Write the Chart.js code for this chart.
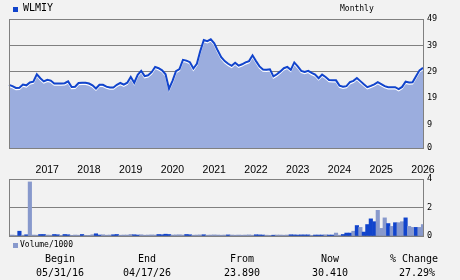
<!DOCTYPE html>
<html>
<head>
<meta charset="utf-8">
<script src="https://cdn.jsdelivr.net/npm/chart.js@4.4.1/dist/chart.umd.min.js"></script>
<style>
  html, body { margin:0; padding:0; background:#f2f2f2; }
  #wrap { position:relative; width:460px; height:280px; background:#f2f2f2; overflow:hidden; font-family:"DejaVu Sans Mono", monospace; color:#000; }
  .abs { position:absolute; white-space:nowrap; }
  .c { transform:translateX(-50%); }
  .sq { position:absolute; width:5px; height:5px; }
  #pc { position:absolute; left:0; top:0; width:460px; height:180px; }
  #vc { position:absolute; left:0; top:170px; width:460px; height:75px; }
</style>
</head>
<body>
<div id="wrap">
  <div id="pc"><canvas id="priceChart"></canvas></div>
  <div id="vc"><canvas id="volChart"></canvas></div>
  <div class="sq" style="left:13px;top:7px;background:#1144cc"></div>
  <div class="abs" style="left:23px;top:1px;font-size:10px;line-height:14px;">WLMIY</div>
  <div class="abs" style="left:340px;top:3px;font-size:8px;line-height:12px;">Monthly</div>
  <div class="sq" style="left:13px;top:243px;background:#8899cc"></div>
  <div class="abs" style="left:20px;top:239px;font-size:8px;line-height:12px;">Volume/1000</div>
  <div class="abs c" style="left:60px;top:252px;font-size:10px;line-height:14px;">Begin</div>
  <div class="abs c" style="left:147px;top:252px;font-size:10px;line-height:14px;">End</div>
  <div class="abs c" style="left:242px;top:252px;font-size:10px;line-height:14px;">From</div>
  <div class="abs c" style="left:330px;top:252px;font-size:10px;line-height:14px;">Now</div>
  <div class="abs c" style="left:414px;top:252px;font-size:10px;line-height:14px;">% Change</div>
  <div class="abs c" style="left:60px;top:266px;font-size:10px;line-height:14px;">05/31/16</div>
  <div class="abs c" style="left:147px;top:266px;font-size:10px;line-height:14px;">04/17/26</div>
  <div class="abs c" style="left:242px;top:266px;font-size:10px;line-height:14px;">23.890</div>
  <div class="abs c" style="left:330px;top:266px;font-size:10px;line-height:14px;">30.410</div>
  <div class="abs c" style="left:417px;top:266px;font-size:10px;line-height:14px;">27.29%</div>
</div>
<script>
// ---- data ----
const startYear = 2016, startMonth = 5; // May 2016, monthly
const prices = [
  24.0, 23.5, 22.8, 22.9, 24.1, 23.8, 24.9, 25.2, 28.0, 26.5,
  25.3, 25.9, 25.6, 24.5, 24.5, 24.5, 24.6, 25.3, 23.2, 23.3,
  24.7, 24.8, 24.8, 24.5, 23.8, 22.6, 24.0, 24.0, 23.3, 23.0,
  23.0, 24.0, 24.7, 24.1, 24.8, 27.0, 24.8, 27.8, 29.3, 27.3,
  27.6, 28.8, 30.8, 30.3, 29.5, 28.0, 22.5, 25.5, 29.2, 30.0,
  33.5, 33.2, 32.6, 30.2, 32.0, 36.9, 41.0, 40.6, 41.3, 39.8,
  37.0, 34.5, 33.0, 32.0, 31.2, 32.4, 31.3, 31.8, 32.5, 33.0,
  35.2, 33.0, 31.0, 29.8, 29.7, 29.9, 27.2, 28.0, 29.1, 30.3,
  30.8, 29.7, 32.5, 31.0, 29.3, 28.9, 29.3, 28.5, 27.9, 26.5,
  27.9, 27.0, 25.8, 25.7, 25.7, 23.7, 23.3, 23.5, 25.0, 25.5,
  26.6, 25.4, 24.2, 23.1, 23.6, 24.2, 25.0, 24.3, 23.5, 23.1,
  23.1, 23.1, 22.4, 23.2, 25.2, 24.9, 25.0, 27.3, 29.5, 30.41
];
const volume = [
  0.05, 0.06, 0.04, 0.33, 0.05, 0.08, 3.8, 0.06, 0.05, 0.1,
  0.1, 0.06, 0.05, 0.1, 0.08, 0.04, 0.1, 0.08, 0.04, 0.06,
  0.05, 0.1, 0.04, 0.03, 0.08, 0.15, 0.06, 0.08, 0.05, 0.06,
  0.08, 0.1, 0.05, 0.06, 0.06, 0.1, 0.08, 0.06, 0.08, 0.05,
  0.06, 0.07, 0.06, 0.1, 0.08, 0.12, 0.1, 0.06, 0.07, 0.08,
  0.06, 0.1, 0.08, 0.05, 0.06, 0.07, 0.08, 0.05, 0.06, 0.07,
  0.06, 0.05, 0.06, 0.07, 0.06, 0.05, 0.06, 0.05, 0.06, 0.07,
  0.05, 0.08, 0.07, 0.06, 0.05, 0.04, 0.05, 0.06, 0.06, 0.05,
  0.06, 0.08, 0.07, 0.06, 0.07, 0.07, 0.07, 0.04, 0.06, 0.06,
  0.06, 0.08, 0.06, 0.06, 0.2, 0.05, 0.1, 0.2, 0.2, 0.33,
  0.73, 0.6, 0.27, 0.8, 1.2, 1.0, 1.8, 0.53, 1.27, 0.87,
  0.67, 0.93, 0.93, 1.0, 1.27, 0.67, 0.6, 0.6, 0.6, 0.8
];
// u = up month (dark bar), d = down month (light bar)
const volumeDir = (
  'dddududddu' + 'uddu' + 'udu' + 'udd' +
  'duddduuddd' + 'uudddduudd' + 'ddduuuuddd' + 'duuddduddd' +
  'dddudddddd' + 'duuuddu' + 'ddd' + 'duuuuuudu' + 'u' +
  'udu' + 'udduuud' + 'udu' + 'uuudddud' + 'uddudduddd'
).split('');
const priceTicks = [0, 9, 19, 29, 39, 49];
const volumeTicks = [0, 2, 4];
const yearLabelMonth = 4; // year label sits at April

const months = prices.map((_, i) => {
  const m = startMonth - 1 + i;
  const y = startYear + Math.floor(m / 12);
  const mm = (m % 12) + 1;
  return y + '-' + String(mm).padStart(2, '0');
});

// ---- style ----
const GRID = '#808080';
const LINE = '#1144cc';
const FILL = '#9badde';
const VOL_UP = '#1144cc';
const VOL_DN = '#8899cc';

const framePlugin = {
  id: 'frame',
  afterDatasetsDraw(chart) {
    const a = chart.chartArea, ctx = chart.ctx;
    ctx.save();
    ctx.strokeStyle = GRID;
    ctx.lineWidth = 1;
    ctx.strokeRect(Math.round(a.left) + 0.5, Math.round(a.top) + 0.5, Math.round(a.right - a.left), Math.round(a.bottom - a.top));
    ctx.restore();
  }
};
const shiftPlugin = {
  id: 'shift',
  beforeDatasetDraw(chart, args) {
    const ds = chart.data.datasets[args.index];
    if (ds.shiftY) { chart.ctx.save(); chart.ctx.translate(0, ds.shiftY); }
  },
  afterDatasetDraw(chart, args) {
    const ds = chart.data.datasets[args.index];
    if (ds.shiftY) chart.ctx.restore();
  }
};

new Chart(document.getElementById('priceChart'), {
  type: 'line',
  data: {
    labels: months,
    datasets: [
      { data: prices, fill: 'origin', backgroundColor: FILL, borderWidth: 0, pointRadius: 0, order: 3 },
      { data: prices, fill: false, borderColor: '#ffffff', borderWidth: 1.5, pointRadius: 0, order: 2, shiftY: 1.5 },
      { data: prices, fill: false, borderColor: LINE, borderWidth: 2, pointRadius: 0, order: 1 }
    ]
  },
  options: {
    responsive: true, maintainAspectRatio: false, animation: false,
    layout: { padding: { left: 9, top: 19, right: 0, bottom: 0 } },
    plugins: { legend: { display: false }, tooltip: { enabled: false } },
    elements: { line: { tension: 0 } },
    scales: {
      x: {
        type: 'category',
        grid: { display: false, drawTicks: false },
        border: { display: true, color: GRID, width: 1 },
        ticks: {
          autoSkip: false, maxRotation: 0, padding: 16,
          font: { family: 'Liberation Sans', size: 10.5 }, color: '#000',
          callback: function (v, i) {
            const lab = months[i];
            return Number(lab.slice(5)) === yearLabelMonth ? lab.slice(0, 4) : '';
          }
        },
        afterFit(s) { s.height = 32; s.paddingLeft = 0; s.paddingRight = 0; }
      },
      y: {
        position: 'right', min: 0, max: 49,
        afterBuildTicks(s) { s.ticks = priceTicks.map(v => ({ value: v })); },
        grid: { color: GRID, lineWidth: 1, drawTicks: false },
        border: { display: true, color: GRID },
        ticks: { padding: 4, font: { family: 'DejaVu Sans Mono', size: 8.5 }, color: '#000' },
        afterFit(s) { s.width = 37; }
      }
    }
  },
  plugins: [shiftPlugin, framePlugin]
});

new Chart(document.getElementById('volChart'), {
  type: 'bar',
  data: {
    labels: months,
    datasets: [{
      data: volume,
      backgroundColor: c => volumeDir[c.dataIndex] === 'u' ? VOL_UP : VOL_DN,
      barPercentage: 1, categoryPercentage: 1, borderWidth: 0
    }]
  },
  options: {
    responsive: true, maintainAspectRatio: false, animation: false,
    layout: { padding: { left: 9, top: 9, right: 0, bottom: 6 } },
    plugins: { legend: { display: false }, tooltip: { enabled: false } },
    scales: {
      x: { type: 'category', offset: false, display: false },
      y: {
        position: 'right', min: 0, max: 4,
        afterBuildTicks(s) { s.ticks = volumeTicks.map(v => ({ value: v })); },
        grid: { color: GRID, lineWidth: 1, drawTicks: false },
        border: { display: true, color: GRID },
        ticks: { padding: 4, font: { family: 'DejaVu Sans Mono', size: 8.5 }, color: '#000' },
        afterFit(s) { s.width = 37; }
      }
    }
  },
  plugins: [framePlugin]
});
</script>
</body>
</html>
